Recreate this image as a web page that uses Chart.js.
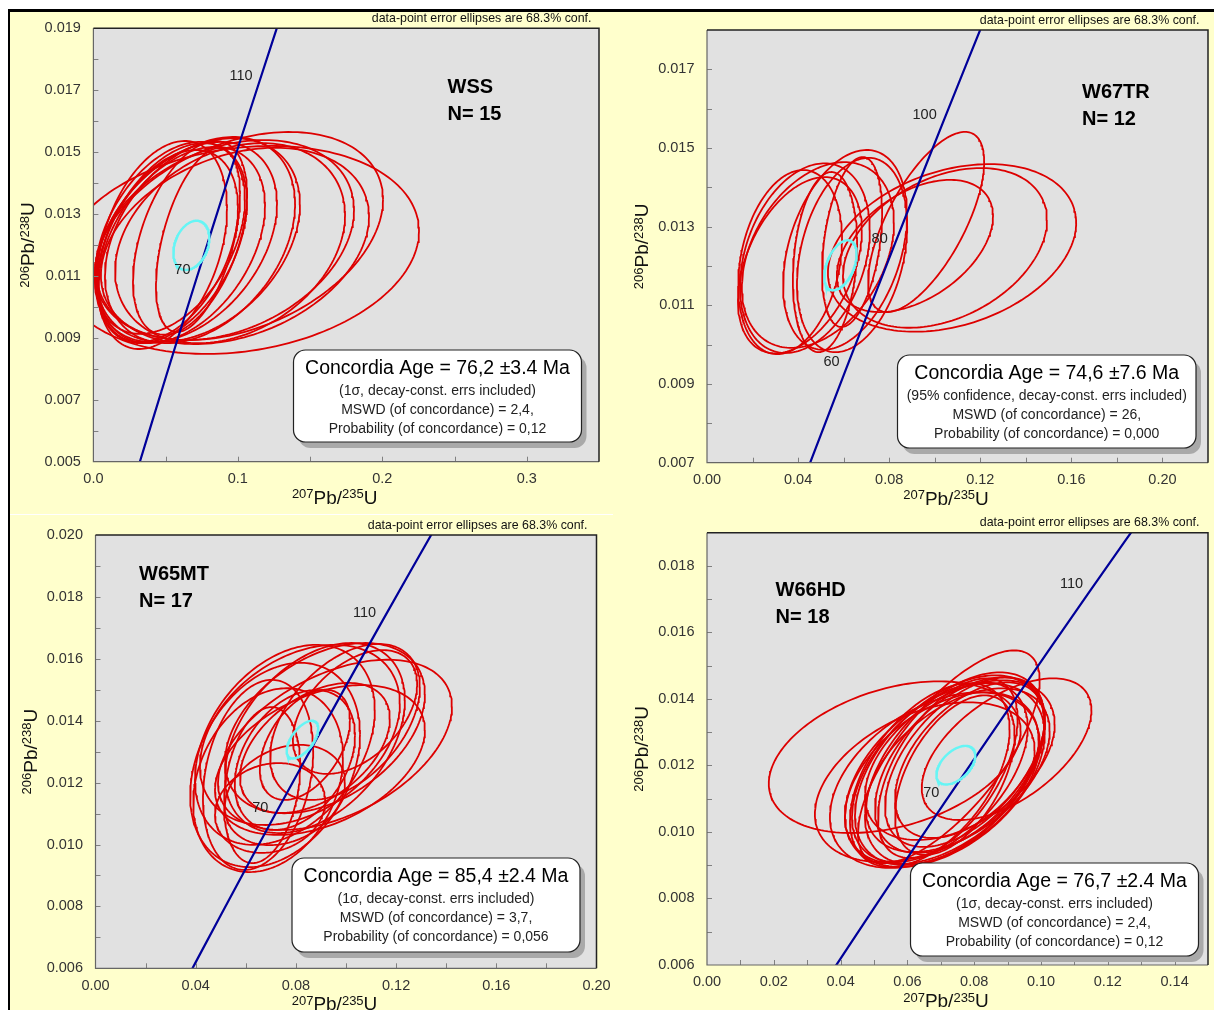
<!DOCTYPE html>
<html>
<head>
<meta charset="utf-8">
<script src="https://cdn.jsdelivr.net/npm/chart.js@4.4.1/dist/chart.umd.min.js"></script>
<style>
  html, body { margin: 0; padding: 0; background: #fff; }
  body { width: 1214px; height: 1010px; position: relative; overflow: hidden; }
  #sheet { position: absolute; left: 8px; top: 9px; width: 1206px; height: 1001px; background: #ffffcc;
           border-top: 3px solid #000; border-left: 2px solid #000; box-sizing: border-box; }
  #split { position: absolute; left: 10px; top: 514px; width: 603px; height: 1px; background: #fff; }
  canvas { position: absolute; left: 0; top: 0; width: 1214px; height: 1010px; }
</style>
</head>
<body>
<div id="sheet"></div>
<div id="split"></div>
<canvas id="wss" width="1214" height="1010"></canvas>
<canvas id="w67tr" width="1214" height="1010"></canvas>
<canvas id="w65mt" width="1214" height="1010"></canvas>
<canvas id="w66hd" width="1214" height="1010"></canvas>
<script>
const FONT = '"Liberation Sans", Arial, Helvetica, sans-serif';

// concordia curve, ages in Ma
const concordiaAge = [30, 40, 50, 60, 70, 80, 90, 100, 110, 120, 130, 140];
const concordia207 = [0.02999, 0.04018, 0.05048, 0.06087, 0.07137, 0.08198, 0.09268, 0.10350, 0.11442, 0.12545, 0.13659, 0.14784];
const concordia206 = [0.004665, 0.006224, 0.007786, 0.009351, 0.010918, 0.012487, 0.014059, 0.015633, 0.017210, 0.018789, 0.020371, 0.021955];

// WSS
const wssX = [0.1008, 0.1008, 0.0980, 0.0911, 0.0724, 0.0641, 0.0613, 0.0544, 0.0530, 0.0516, 0.0669, 0.0724, 0.0738, 0.0475, 0.0946];
const wssY = [0.01184, 0.01229, 0.01197, 0.01216, 0.01216, 0.01210, 0.01200, 0.01206, 0.01223, 0.01197, 0.01223, 0.01216, 0.01216, 0.01200, 0.01206];
const wssErrX = [0.1246, 0.0997, 0.0928, 0.0893, 0.0706, 0.0630, 0.0575, 0.0519, 0.0519, 0.0485, 0.0395, 0.0291, 0.0658, 0.0450, 0.0796];
const wssErrY = [0.00336, 0.00336, 0.00317, 0.00323, 0.00329, 0.00323, 0.00317, 0.00323, 0.00310, 0.00310, 0.00313, 0.00297, 0.00333, 0.00336, 0.00323];
const wssRho = [0.18, 0.35, 0.30, 0.30, 0.35, 0.38, 0.40, 0.42, 0.40, 0.40, 0.45, 0.50, 0.35, 0.35, 0.28];
const wssMean = [0.0678, 0.01199, 0.01246, 0.000795, 0.30];
const wssXTicks = ['0.0', '0.1', '0.2', '0.3'];
const wssYTicks = ['0.005', '0.007', '0.009', '0.011', '0.013', '0.015', '0.017', '0.019'];
const wssBox = ['Concordia Age = 76,2 ±3.4 Ma', '(1σ, decay-const. errs included)', 'MSWD (of concordance) = 2,4,', 'Probability (of concordance) = 0,12'];

// W67TR
const w67X = [0.1076, 0.1045, 0.0913, 0.0962, 0.0365, 0.0430, 0.0487, 0.0606, 0.0637, 0.0518, 0.0637, 0.0408];
const w67Y = [0.01246, 0.01246, 0.01251, 0.01312, 0.01210, 0.01220, 0.01228, 0.01241, 0.01228, 0.01210, 0.01261, 0.01202];
const w67ErrX = [0.0545, 0.0448, 0.0343, 0.0255, 0.0228, 0.0285, 0.0334, 0.0272, 0.0242, 0.0141, 0.0132, 0.0272];
const w67ErrY = [0.00213, 0.00203, 0.00168, 0.00229, 0.00234, 0.00241, 0.00236, 0.00254, 0.00247, 0.00229, 0.00216, 0.00224];
const w67Rho = [0.30, 0.35, 0.45, 0.67, 0.25, 0.30, 0.35, 0.35, 0.30, 0.20, 0.35, 0.40];
const w67Mean = [0.0586, 0.01202, 0.00711, 0.000635, 0.45];
const w67XTicks = ['0.00', '0.04', '0.08', '0.12', '0.16', '0.20'];
const w67YTicks = ['0.007', '0.009', '0.011', '0.013', '0.015', '0.017'];
const w67Box = ['Concordia Age = 74,6 ±7.6 Ma', '(95% confidence, decay-const. errs included)', 'MSWD (of concordance) = 26,', 'Probability (of concordance) = 0,000'];

// W65MT
const w65X = [0.0956, 0.0916, 0.0876, 0.0816, 0.0756, 0.0717, 0.0689, 0.0649, 0.0796, 0.0836, 0.0876, 0.0756, 0.0697, 0.0996, 0.0896, 0.0665, 0.1036];
const w65Y = [0.01322, 0.01376, 0.01344, 0.01354, 0.01322, 0.01257, 0.01208, 0.01225, 0.01273, 0.01322, 0.01312, 0.01160, 0.01118, 0.01396, 0.01273, 0.01192, 0.01428];
const w65ErrX = [0.0467, 0.0399, 0.0359, 0.0399, 0.0359, 0.0339, 0.0299, 0.0220, 0.0240, 0.0180, 0.0299, 0.0240, 0.0220, 0.0299, 0.0419, 0.0152, 0.0248];
const w65ErrY = [0.00275, 0.00275, 0.00307, 0.00291, 0.00323, 0.00330, 0.00297, 0.00307, 0.00226, 0.00178, 0.00210, 0.00162, 0.00145, 0.00252, 0.00242, 0.00252, 0.00200];
const w65Rho = [0.45, 0.40, 0.40, 0.35, 0.35, 0.30, 0.25, 0.25, 0.35, 0.45, 0.45, 0.25, 0.15, 0.45, 0.40, 0.25, 0.45];
const w65Mean = [0.0826, 0.01339, 0.0063, 0.000607, 0.60];
const w65XTicks = ['0.00', '0.04', '0.08', '0.12', '0.16', '0.20'];
const w65YTicks = ['0.006', '0.008', '0.010', '0.012', '0.014', '0.016', '0.018', '0.020'];
const w65Box = ['Concordia Age = 85,4 ±2.4 Ma', '(1σ, decay-const. errs included)', 'MSWD (of concordance) = 3,7,', 'Probability (of concordance) = 0,056'];

// W66HD
const w66X = [0.0562, 0.0897, 0.0724, 0.0727, 0.0712, 0.0742, 0.0697, 0.0757, 0.0682, 0.0772, 0.0667, 0.0721, 0.0751, 0.0652, 0.0787, 0.0742, 0.0703, 0.0757];
const w66Y = [0.01225, 0.01249, 0.01226, 0.01186, 0.01171, 0.01192, 0.01180, 0.01201, 0.01156, 0.01210, 0.01171, 0.01192, 0.01186, 0.01150, 0.01216, 0.01171, 0.01162, 0.01216];
const w66ErrX = [0.0377, 0.0254, 0.0272, 0.0284, 0.0299, 0.0269, 0.0263, 0.0254, 0.0314, 0.0239, 0.0239, 0.0209, 0.0275, 0.0329, 0.0224, 0.0179, 0.0290, 0.0284];
const w66ErrY = [0.00228, 0.00213, 0.00320, 0.00285, 0.00276, 0.00288, 0.00270, 0.00264, 0.00264, 0.00255, 0.00276, 0.00270, 0.00246, 0.00240, 0.00234, 0.00240, 0.00258, 0.00240];
const w66Rho = [0.35, 0.55, 0.72, 0.48, 0.45, 0.50, 0.50, 0.50, 0.42, 0.52, 0.50, 0.55, 0.48, 0.40, 0.50, 0.50, 0.45, 0.45];
const w66Mean = [0.0745, 0.01201, 0.00583, 0.00058, 0.50];
const w66XTicks = ['0.00', '0.02', '0.04', '0.06', '0.08', '0.10', '0.12', '0.14'];
const w66YTicks = ['0.006', '0.008', '0.010', '0.012', '0.014', '0.016', '0.018'];
const w66Box = ['Concordia Age = 76,7 ±2.4 Ma', '(1σ, decay-const. errs included)', 'MSWD (of concordance) = 2,4,', 'Probability (of concordance) = 0,12'];

const NOTE = 'data-point error ellipses are 68.3% conf.';

const panels = [
  { id: 'wss', name: 'WSS', x: wssX, y: wssY, ex: wssErrX, ey: wssErrY, rho: wssRho, mean: wssMean,
    xTicks: wssXTicks, yTicks: wssYTicks, box: wssBox, ages: [70, 110],
    xRange: [0, 0.35], yRange: [0.005, 0.019], xStep: 0.05, yStep: 0.001,
    area: [93.4, 28.3, 599, 461.7], note: [591.5, 19], label: [447.5, 87.5], boxRect: [293.5, 350, 288, 92] },
  { id: 'w67tr', name: 'W67TR', x: w67X, y: w67Y, ex: w67ErrX, ey: w67ErrY, rho: w67Rho, mean: w67Mean,
    xTicks: w67XTicks, yTicks: w67YTicks, box: w67Box, ages: [60, 80, 100],
    xRange: [0, 0.22], yRange: [0.007, 0.018], xStep: 0.02, yStep: 0.001,
    area: [707, 30, 1208, 462.7], note: [1199.5, 21], label: [1082, 92.5], boxRect: [897.5, 355, 298.5, 93] },
  { id: 'w65mt', name: 'W65MT', x: w65X, y: w65Y, ex: w65ErrX, ey: w65ErrY, rho: w65Rho, mean: w65Mean,
    xTicks: w65XTicks, yTicks: w65YTicks, box: w65Box, ages: [70, 110],
    xRange: [0, 0.20], yRange: [0.006, 0.020], xStep: 0.02, yStep: 0.001,
    area: [95.5, 535, 596.5, 968.3], note: [587.5, 526], label: [139, 574.5], boxRect: [292, 858, 288, 94] },
  { id: 'w66hd', name: 'W66HD', x: w66X, y: w66Y, ex: w66ErrX, ey: w66ErrY, rho: w66Rho, mean: w66Mean,
    xTicks: w66XTicks, yTicks: w66YTicks, box: w66Box, ages: [70, 110],
    xRange: [0, 0.15], yRange: [0.006, 0.019], xStep: 0.01, yStep: 0.001,
    area: [707, 532.7, 1208, 965], note: [1199.5, 523], label: [775.6, 590], boxRect: [910.5, 863, 288, 93] }
];

// error ellipse outline from centre, half-extents and correlation
function ellipse(cx, cy, sx, sy, rho) {
  const pts = [];
  const k = Math.sqrt(1 - rho * rho);
  for (let i = 0; i <= 180; i++) {
    const t = (i / 180) * Math.PI * 2;
    pts.push({ x: cx + sx * Math.cos(t), y: cy + sy * (rho * Math.cos(t) + k * Math.sin(t)) });
  }
  return pts;
}

function buildDatasets(p) {
  const sets = [];
  sets.push({ data: ellipse(...p.mean), borderColor: '#66f5f5', borderWidth: 2.4 });
  sets.push({ data: concordiaAge.map((a, i) => ({ x: concordia207[i], y: concordia206[i] })), borderColor: '#000099', borderWidth: 2.2 });
  p.x.forEach((cx, i) => {
    sets.push({ data: ellipse(cx, p.y[i], p.ex[i], p.ey[i], p.rho[i]), borderColor: '#dd0000', borderWidth: 1.8 });
  });
  return sets.map(s => Object.assign({ showLine: true, pointRadius: 0, pointHoverRadius: 0, fill: false, tension: 0, clip: 0 }, s));
}

function roundRect(ctx, x, y, w, h, r) {
  ctx.beginPath();
  ctx.moveTo(x + r, y);
  ctx.lineTo(x + w - r, y);
  ctx.arcTo(x + w, y, x + w, y + r, r);
  ctx.lineTo(x + w, y + h - r);
  ctx.arcTo(x + w, y + h, x + w - r, y + h, r);
  ctx.lineTo(x + r, y + h);
  ctx.arcTo(x, y + h, x, y + h - r, r);
  ctx.lineTo(x, y + r);
  ctx.arcTo(x, y, x + r, y, r);
  ctx.closePath();
}

// 207Pb/235U style title: [text, superscript?]
function isotopeTitle(ctx, parts, x, y, rotate) {
  ctx.save();
  ctx.translate(x, y);
  if (rotate) ctx.rotate(-Math.PI / 2);
  ctx.textBaseline = 'alphabetic';
  ctx.textAlign = 'left';
  ctx.fillStyle = '#111';
  const fontOf = sup => (sup ? '13px ' : '19px ') + FONT;
  let w = 0;
  for (const [t, sup] of parts) { ctx.font = fontOf(sup); w += ctx.measureText(t).width; }
  let cx = -w / 2;
  for (const [t, sup] of parts) {
    ctx.font = fontOf(sup);
    ctx.fillText(t, cx, sup ? -5.5 : 0);
    cx += ctx.measureText(t).width;
  }
  ctx.restore();
}

function decor(p) {
  return {
    id: 'decor',
    beforeDraw(chart) {
      const { ctx, chartArea: a } = chart;
      ctx.save();
      ctx.fillStyle = '#e1e1e1';
      ctx.fillRect(a.left, a.top, a.right - a.left, a.bottom - a.top);
      ctx.restore();
    },
    afterDraw(chart) {
      const { ctx, chartArea: a } = chart;
      const sx = chart.scales.x, sy = chart.scales.y;
      ctx.save();

      // tick marks inside the plot
      ctx.strokeStyle = '#808080';
      ctx.lineWidth = 1;
      ctx.beginPath();
      const nx = Math.round((p.xRange[1] - p.xRange[0]) / p.xStep);
      for (let i = 1; i < nx; i++) {
        const px = Math.round(sx.getPixelForValue(p.xRange[0] + i * p.xStep)) + 0.5;
        ctx.moveTo(px, a.bottom); ctx.lineTo(px, a.bottom - 5);
      }
      const ny = Math.round((p.yRange[1] - p.yRange[0]) / p.yStep);
      for (let i = 1; i < ny; i++) {
        const py = Math.round(sy.getPixelForValue(p.yRange[0] + i * p.yStep)) + 0.5;
        ctx.moveTo(a.left, py); ctx.lineTo(a.left + 5, py);
      }
      ctx.stroke();

      // frame
      ctx.strokeStyle = '#666';
      ctx.lineWidth = 1.2;
      ctx.beginPath();
      ctx.moveTo(a.left, a.top); ctx.lineTo(a.left, a.bottom); ctx.lineTo(a.right, a.bottom);
      ctx.stroke();
      ctx.strokeStyle = '#222';
      ctx.lineWidth = 1.5;
      ctx.beginPath();
      ctx.moveTo(a.left, a.top); ctx.lineTo(a.right, a.top); ctx.lineTo(a.right, a.bottom);
      ctx.stroke();

      // age labels along the concordia
      ctx.font = '14.5px ' + FONT;
      ctx.fillStyle = '#222';
      ctx.textAlign = 'right';
      ctx.textBaseline = 'middle';
      p.ages.forEach(age => {
        const i = concordiaAge.indexOf(age);
        const px = sx.getPixelForValue(concordia207[i]);
        const py = sy.getPixelForValue(concordia206[i]);
        ctx.fillText(String(age), px - 6, py - 8);
      });

      // header note
      ctx.font = '12.4px ' + FONT;
      ctx.fillStyle = '#111';
      ctx.fillText(NOTE, p.note[0], p.note[1]);

      // sample name
      ctx.font = 'bold 20px ' + FONT;
      ctx.textAlign = 'left';
      ctx.fillStyle = '#000';
      ctx.fillText(p.name, p.label[0], p.label[1]);
      ctx.fillText('N= ' + p.x.length, p.label[0], p.label[1] + 27);

      // concordia age box
      const [bx, by, bw, bh] = p.boxRect;
      ctx.fillStyle = '#a9a9a9';
      roundRect(ctx, bx + 5, by + 6, bw, bh, 12);
      ctx.fill();
      ctx.fillStyle = '#fff';
      roundRect(ctx, bx, by, bw, bh, 12);
      ctx.fill();
      ctx.strokeStyle = '#222';
      ctx.lineWidth = 1.2;
      ctx.stroke();
      ctx.textAlign = 'center';
      ctx.fillStyle = '#000';
      ctx.font = '19.5px ' + FONT;
      ctx.fillText(p.box[0], bx + bw / 2, by + 19);
      ctx.font = '14px ' + FONT;
      ctx.fillStyle = '#222';
      ctx.fillText(p.box[1], bx + bw / 2, by + 41);
      ctx.fillText(p.box[2], bx + bw / 2, by + 60);
      ctx.fillText(p.box[3], bx + bw / 2, by + 79);

      // axis titles
      isotopeTitle(ctx, [['207', true], ['Pb/', false], ['235', true], ['U', false]], (a.left + a.right) / 2 - 11.5, a.bottom + 42, false);
      isotopeTitle(ctx, [['206', true], ['Pb/', false], ['238', true], ['U', false]], a.left - 59, (a.top + a.bottom) / 2, true);

      ctx.restore();
    }
  };
}

Chart.defaults.font.family = FONT;

panels.forEach(p => {
  new Chart(document.getElementById(p.id), {
    type: 'scatter',
    data: { datasets: buildDatasets(p) },
    options: {
      responsive: false,
      animation: false,
      events: [],
      layout: {
        autoPadding: false,
        padding: { left: p.area[0] - 60, top: p.area[1], right: 1214 - p.area[2], bottom: 1010 - p.area[3] - 40 }
      },
      plugins: { legend: { display: false }, tooltip: { enabled: false } },
      scales: {
        x: {
          type: 'linear', min: p.xRange[0], max: p.xRange[1],
          grid: { display: false, drawTicks: false },
          border: { display: false },
          afterBuildTicks: s => { s.ticks = p.xTicks.map(t => ({ value: Number(t) })); },
          afterFit: s => { s.height = 40; },
          ticks: { autoSkip: false, maxRotation: 0, padding: 8.5, color: '#333', font: { size: 14.5 },
                   callback: (v, i) => p.xTicks[i] }
        },
        y: {
          type: 'linear', min: p.yRange[0], max: p.yRange[1],
          grid: { display: false, drawTicks: false },
          border: { display: false },
          afterBuildTicks: s => { s.ticks = p.yTicks.map(t => ({ value: Number(t) })); },
          afterFit: s => { s.width = 60; },
          ticks: { autoSkip: false, padding: 12.5, color: '#333', font: { size: 14.5 },
                   callback: (v, i) => p.yTicks[i] }
        }
      }
    },
    plugins: [decor(p)]
  });
});
</script>
</body>
</html>
